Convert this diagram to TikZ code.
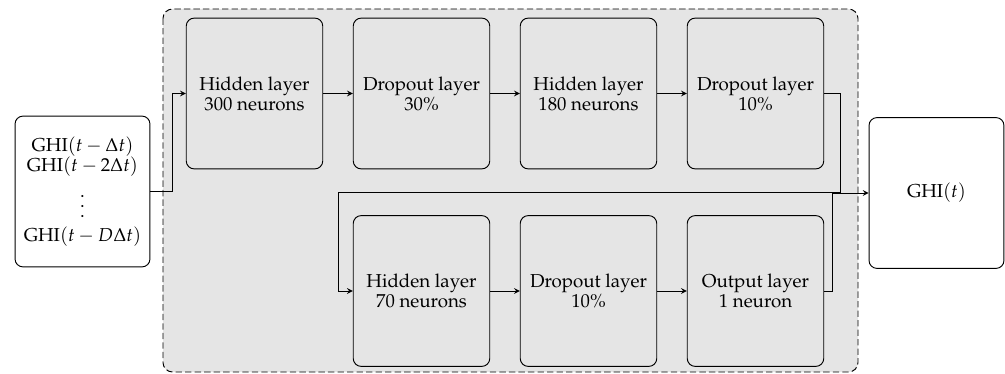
\documentclass[tikz,border=0pt]{standalone}
\usepackage[T1]{fontenc}
\usepackage{mathpazo}
\usepackage{tikz}

\newcommand{\tallvdots}{\vbox{\baselineskip6.3pt\lineskiplimit-100pt\hbox{.}\hbox{.}\hbox{.}}}

\begin{document}
\begin{tikzpicture}[x=0.63pt,y=-0.63pt,>=stealth,line width=0.6pt,
	font=\fontsize{11.8}{12.6}\selectfont,
	layer/.style={draw,rounded corners=5pt,fill=gray!20,minimum width=86pt,minimum height=95pt,align=center},
	io/.style={draw,rounded corners=5pt,fill=white,minimum width=85pt,minimum height=95pt,align=center}]
	\useasboundingbox (0,0) rectangle (1005,374);
	\draw[dash pattern=on 4pt off 2pt,rounded corners=6pt,fill=gray!20] (163,9) rectangle (858,372);
	\node[io] at (82.5,191.5) (input) {GHI$(t-\Delta t)$\\ GHI$(t-2\Delta t)$\\[11pt] \tallvdots\\[2pt] GHI$(t-D\Delta t)$};
	\node[io] at (936.5,193) (ghi) {GHI$(t)$};
	\node[layer] at (254.5,93.5) (hid1) {Hidden layer\\ 300 neurons};
	\node[layer] at (421.5,93.5) (drop1) {Dropout layer\\ 30\%};
	\node[layer] at (588.5,93.5) (hid2) {Hidden layer\\ 180 neurons};
	\node[layer] at (755.5,93.5) (drop2) {Dropout layer\\ 10\%};
	\node[layer] at (421.5,291) (hid3) {Hidden layer\\ 70 neurons};
	\node[layer] at (588.5,291) (drop3) {Dropout layer\\ 10\%};
	\node[layer] at (755.5,291) (outl) {Output layer\\ 1 neuron};
	\coordinate (turn1) at (840,192);
	\coordinate (turn2) at (338,192);
	\draw[->] (input.east) -- ++(22,0) |- (hid1.west);
	\draw[->] (hid1) to (drop1);
	\draw[->] (drop1) to (hid2);
	\draw[->] (hid2) to (drop2);
	\draw[->] (drop2.east) -| (turn1) -- (turn2) |- (hid3.west);
	\draw[->] (hid3) to (drop3);
	\draw[->] (drop3) to (outl);
	\draw[->] (outl.east) -- ++(8,0) |- (ghi.west);
\end{tikzpicture}
\end{document}
